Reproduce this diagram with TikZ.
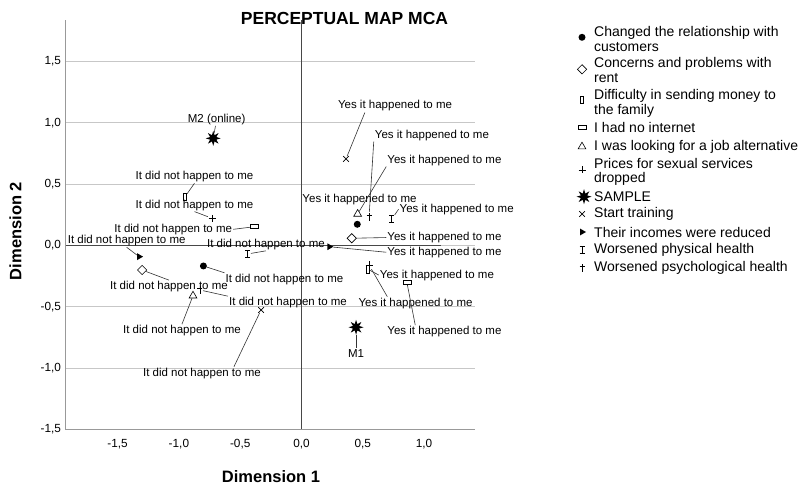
\documentclass[tikz,border=0pt]{standalone}
\usepackage{fontspec}
\setmainfont{Liberation Sans}
\usepackage{tikz}
\usetikzlibrary{shapes.geometric,shapes.misc}

\begin{document}
\begin{tikzpicture}[x=1pt, y=-1pt,
  lbl/.style={inner sep=1pt, font=\fontsize{11.5}{13}\selectfont},
  leg/.style={anchor=west, align=left, inner sep=0, font=\fontsize{14}{14.5}\selectfont},
  tck/.style={inner sep=0, font=\fontsize{11.8}{13}\selectfont},
  grid/.style={black!22, line width=0.8pt},
  ax/.style={black!40, line width=1pt},
  ref/.style={black!72, line width=0.8pt},
  con/.style={black!80, line width=0.6pt},
  mc/.style={circle, fill=black, inner sep=0, minimum size=7pt},
  md/.style={diamond, draw, fill=white, inner sep=0, minimum size=9.5pt, line width=0.6pt},
  mm/.style={rectangle, draw, fill=white, inner sep=0, minimum width=3.5pt, minimum height=7.5pt, line width=0.6pt},
  mi/.style={rectangle, draw, fill=white, inner sep=0, minimum width=8pt, minimum height=4pt, line width=0.6pt},
  mj/.style={regular polygon, regular polygon sides=3, draw, fill=white, inner sep=0, minimum size=9pt, line width=0.6pt},
  mp/.style={inner sep=0, minimum size=8pt, path picture={\draw[line width=0.7pt] (path picture bounding box.center) ++(0pt,3.5pt) -- ++(0pt,-7pt) (path picture bounding box.center) ++(-3.5pt,0pt) -- ++(7pt,0pt);}},
  ms/.style={star, star points=8, star point ratio=2.2, fill=black, inner sep=0, minimum size=15pt},
  mt/.style={cross out, draw, inner sep=0, minimum size=5pt, line width=0.7pt},
  mr/.style={regular polygon, regular polygon sides=3, shape border rotate=-90, fill=black, inner sep=0, minimum size=8pt},
  mh/.style={inner sep=0, minimum width=6pt, minimum height=8pt, path picture={\draw[line width=0.7pt] (path picture bounding box.center) ++(0pt,3.5pt) -- ++(0pt,-7pt) (path picture bounding box.center) ++(-2.5pt,3.5pt) -- ++(5pt,0pt) (path picture bounding box.center) ++(-2.5pt,-3.5pt) -- ++(5pt,0pt);}},
  mg/.style={inner sep=0, minimum width=6pt, minimum height=9pt, path picture={\draw[line width=0.7pt] (path picture bounding box.center) ++(0pt,4pt) -- ++(0pt,-8pt) (path picture bounding box.center) ++(-2.5pt,1.5pt) -- ++(5pt,0pt);}}
]
\useasboundingbox (0,0) rectangle (802,486);

\node[font=\bfseries\fontsize{17.5}{20}\selectfont, inner sep=0] (title) at (344.5,18) {PERCEPTUAL MAP MCA};
\node[font=\bfseries\fontsize{16.5}{18}\selectfont, inner sep=0] (xt) at (271,476.5) {Dimension 1};
\node[font=\bfseries\fontsize{16.5}{18}\selectfont, inner sep=0, rotate=90] (yt) at (15.5,231) {Dimension 2};

\begin{scope}[shift={(301.5pt,-245.5pt)}, x=122.6pt, y=122.6pt]
\draw[grid] (-1.924,1.5) -- (1.418,1.5);
\draw[grid] (-1.924,1.0) -- (1.418,1.0);
\draw[grid] (-1.924,0.5) -- (1.418,0.5);
\draw[grid] (-1.924,0.0) -- (1.418,0.0);
\draw[grid] (-1.924,-0.5) -- (1.418,-0.5);
\draw[grid] (-1.924,-1.0) -- (1.418,-1.0);
\draw[ax] (-1.924,1.839) -- (-1.924,-1.5) -- (1.418,-1.5);
\draw[ref] (0,1.839) -- (0,-1.5);
\draw[ref] (-1.924,0) -- (1.138,0);

\node[tck, anchor=east, xshift=-4.5pt] (y0) at (-1.924,1.5) {1,5};
\node[tck, anchor=east, xshift=-4.5pt] (y1) at (-1.924,1.0) {1,0};
\node[tck, anchor=east, xshift=-4.5pt] (y2) at (-1.924,0.5) {0,5};
\node[tck, anchor=east, xshift=-4.5pt] (y3) at (-1.924,0.0) {0,0};
\node[tck, anchor=east, xshift=-4.5pt] (y4) at (-1.924,-0.5) {-0,5};
\node[tck, anchor=east, xshift=-4.5pt] (y5) at (-1.924,-1.0) {-1,0};
\node[tck, anchor=east, xshift=-4.5pt] (y6) at (-1.924,-1.5) {-1,5};
\node[tck, yshift=-15pt] (x0) at (-1.5,-1.5) {-1,5};
\node[tck, yshift=-15pt] (x1) at (-1.0,-1.5) {-1,0};
\node[tck, yshift=-15pt] (x2) at (-0.5,-1.5) {-0,5};
\node[tck, yshift=-15pt] (x3) at (0.0,-1.5) {0,0};
\node[tck, yshift=-15pt] (x4) at (0.5,-1.5) {0,5};
\node[tck, yshift=-15pt] (x5) at (1.0,-1.5) {1,0};

\node[mc] (c0) at (-0.80,-0.167) {};
\node[mc] (c1) at (0.455,0.173) {};
\node[md] (d0) at (-1.30,-0.20) {};
\node[md] (d1) at (0.41,0.059) {};
\node[mm] (m0) at (-0.95,0.398) {};
\node[mm] (m1) at (0.542,-0.194) {};
\node[mi] (i0) at (-0.387,0.153) {};
\node[mi] (i1) at (0.86,-0.303) {};
\node[mj] (j0) at (-0.885,-0.41) {};
\node[mj] (j1) at (0.458,0.257) {};
\node[mp] (p0) at (-0.73,0.222) {};
\node[mp] (p1) at (0.551,-0.159) {};
\node[ms] (s2) at (-0.72,0.874) {};
\node[ms] (s1) at (0.445,-0.667) {};
\node[mt] (t0) at (-0.33,-0.526) {};
\node[mt] (t1) at (0.363,0.706) {};
\node[mr] (r0) at (-1.325,-0.091) {};
\node[mr] (r1) at (0.227,-0.01) {};
\node[mh] (h0) at (-0.439,-0.069) {};
\node[mh] (h1) at (0.736,0.214) {};
\node[mg] (g0) at (-0.828,-0.363) {};
\node[mg] (g1) at (0.551,0.235) {};

\node[lbl] (lc0) at (-0.139,-0.276) {It did not happen to me};
\node[lbl] (lc1) at (0.473,0.371) {Yes it happened to me};
\node[lbl] (ld0) at (-1.081,-0.336) {It did not happen to me};
\node[lbl] (ld1) at (1.166,0.065) {Yes it happened to me};
\node[lbl] (lm0) at (-0.873,0.561) {It did not happen to me};
\node[lbl] (lm1) at (1.105,-0.241) {Yes it happened to me};
\node[lbl] (li0) at (-1.046,0.132) {It did not happen to me};
\node[lbl] (li1) at (1.166,-0.703) {Yes it happened to me};
\node[lbl] (lj0) at (-0.975,-0.695) {It did not happen to me};
\node[lbl] (lj1) at (1.166,0.697) {Yes it happened to me};
\node[lbl] (lp0) at (-0.873,0.330) {It did not happen to me};
\node[lbl] (lp1) at (0.93,-0.471) {Yes it happened to me};
\node[lbl] (ls2) at (-0.692,1.029) {M2 (online)};
\node[lbl] (ls1) at (0.445,-0.879) {M1};
\node[lbl] (lt0) at (-0.812,-1.042) {It did not happen to me};
\node[lbl] (lt1) at (0.763,1.138) {Yes it happened to me};
\node[lbl] (lr0) at (-1.426,0.039) {It did not happen to me};
\node[lbl] (lr1) at (1.166,-0.055) {Yes it happened to me};
\node[lbl] (lh0) at (-0.29,0.01) {It did not happen to me};
\node[lbl] (lh1) at (1.266,0.295) {Yes it happened to me};
\node[lbl] (lg0) at (-0.11,-0.467) {It did not happen to me};
\node[lbl] (lg1) at (1.064,0.901) {Yes it happened to me};

\draw[con] (c0) -- (lc0.north west);
\draw[con] (d0) -- (ld0.north);
\draw[con] (d1) -- (ld1.west);
\draw[con] (m0) -- (lm0.south);
\draw[con] (m1) -- (lm1.west);
\draw[con] (i0) -- (li0.east);
\draw[con] (i1) -- ([xshift=29pt]li1.north west);
\draw[con] (j0) -- (lj0.north);
\draw[con] (j1) -- (lj1.south west);
\draw[con] (p0) -- (lp0.south);
\draw[con] (p1) -- ([xshift=30pt]lp1.north west);
\draw[con] (s2) -- (ls2);
\draw[con] (s1) -- (ls1);
\draw[con] (t0) -- ([xshift=-28pt]lt0.north east);
\draw[con] (t1) -- ([xshift=28pt]lt1.south west);
\draw[con] (r0) -- (lr0.south);
\draw[con] (r1) -- (lr1.west);
\draw[con] (h0) -- (lh0.south);
\draw[con] (h1) -- (lh1.west);
\draw[con] (g0) -- (lg0.north west);
\draw[con] (g1) -- (lg1.south west);
\end{scope}

\node[mc] (k1) at (582,37.3) {};
\node[md] (k2) at (582,69.3) {};
\node[mm] (k3) at (582,100) {};
\node[mi] (k4) at (582,127.3) {};
\node[mj] (k5) at (582,146.7) {};
\node[mp] (k6) at (582,170) {};
\node[ms] (k7) at (584,196.7) {};
\node[mt] (k8) at (582,214) {};
\node[mr] (k9) at (582,232) {};
\node[mh] (k10) at (582,250) {};
\node[mg] (k11) at (582,268.3) {};
\node[leg] (n1) at (594,38.9) {Changed the relationship with\\customers};
\node[leg] (n2) at (594,70) {Concerns and problems with\\rent};
\node[leg] (n3) at (594,103.3) {Difficulty in sending money to\\the family};
\node[leg] (n4) at (594,127.3) {I had no internet};
\node[leg] (n5) at (594,146.7) {I was looking for a job alternative};
\node[leg] (n6) at (594,172) {Prices for sexual services\\dropped};
\node[leg] (n7) at (594,196.7) {SAMPLE};
\node[leg] (n8) at (594,214) {Start training};
\node[leg] (n9) at (594,232) {Their incomes were reduced};
\node[leg] (n10) at (594,250) {Worsened physical health};
\node[leg] (n11) at (594,268.3) {Worsened psychological health};
\end{tikzpicture}
\end{document}
